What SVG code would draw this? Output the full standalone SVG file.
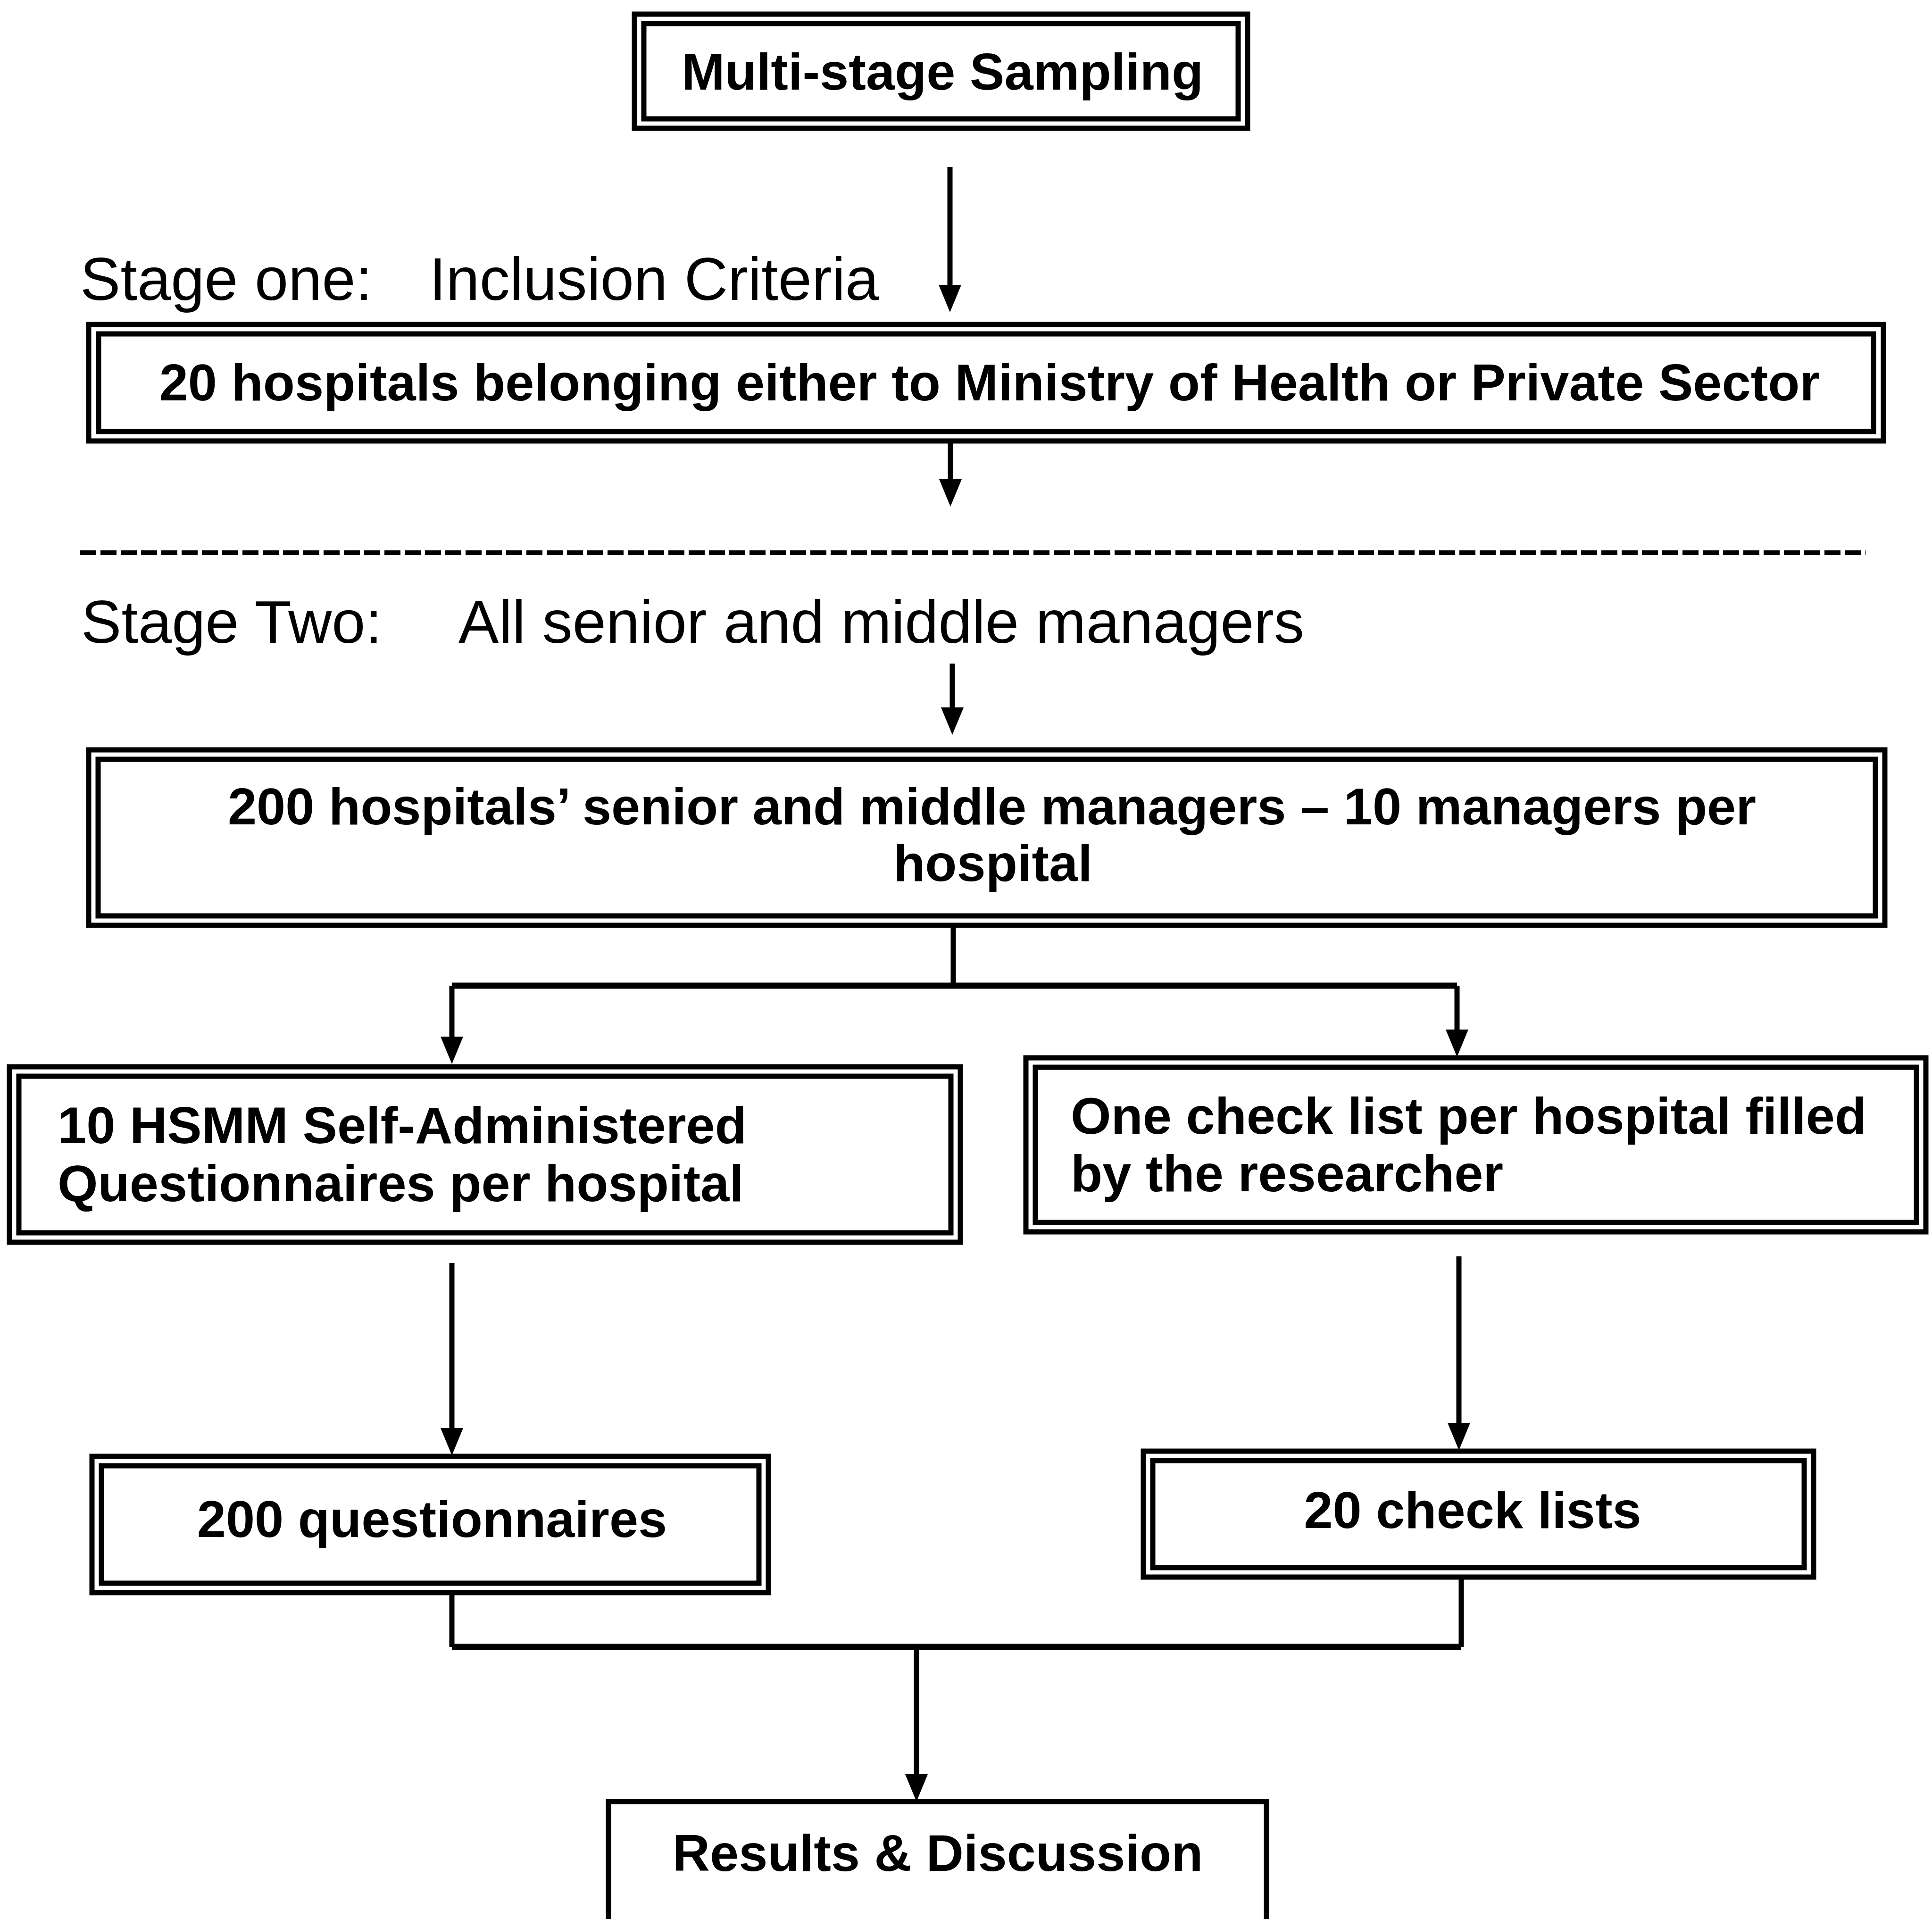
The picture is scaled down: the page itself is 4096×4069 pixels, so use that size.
<svg xmlns="http://www.w3.org/2000/svg" width="4096" height="4069" viewBox="0 0 4096 4069">
  <style>
    .box { fill: none; stroke: #000; stroke-width: 11; }
    .tb { font-family: "Liberation Sans", Arial, sans-serif; font-weight: bold; font-size: 110px; fill: #000; }
    .tr { font-family: "Liberation Sans", Arial, sans-serif; font-size: 128px; fill: #000; }
    .conn { fill: none; stroke: #000; stroke-width: 11; }
    .hconn { fill: none; stroke: #000; stroke-width: 13; }
    .dash { fill: none; stroke: #000; stroke-width: 10; stroke-dasharray: 34 9; }
  </style>
  <defs>
    <marker id="ah" markerUnits="userSpaceOnUse" viewBox="0 0 58 48" markerWidth="58" markerHeight="48" refX="18" refY="24" orient="auto">
      <path d="M0,0 L58,24 L0,48 Z" fill="#000"/>
    </marker>
  </defs>
  <rect x="0" y="0" width="4096" height="4069" fill="#fff"/>

  <g id="connectors">
    <path class="conn" d="M2014,354 V622" marker-end="url(#ah)"/>
    <path class="conn" d="M2015,935 V1034" marker-end="url(#ah)"/>
    <path class="conn" d="M2019,1407 V1518" marker-end="url(#ah)"/>
    <path class="conn" d="M2021,1962 V2090"/>
    <path class="hconn" d="M958,2090 H3089"/>
    <path class="conn" d="M958,2090 V2216" marker-end="url(#ah)"/>
    <path class="conn" d="M3089,2090 V2201" marker-end="url(#ah)"/>
    <path class="conn" d="M958,2678 V3046" marker-end="url(#ah)"/>
    <path class="conn" d="M3093,2664 V3035" marker-end="url(#ah)"/>
    <path class="conn" d="M958,3377 V3492"/>
    <path class="conn" d="M3098,3344 V3492"/>
    <path class="hconn" d="M958,3492 H3098"/>
    <path class="conn" d="M1943,3492 V3780" marker-end="url(#ah)"/>
  </g>

  <g id="divider">
    <path class="dash" d="M170,1172 H3955"/>
  </g>

  <g id="node-multistage">
    <rect class="box" x="1345" y="30" width="1300" height="242"/>
    <rect class="box" x="1365" y="50" width="1260" height="202"/>
    <text class="tb" x="1998" y="190" text-anchor="middle">Multi-stage Sampling</text>
  </g>

  <g id="label-stage-one">
    <text class="tr" x="170" y="636">Stage one:</text>
    <text class="tr" x="910" y="636">Inclusion Criteria</text>
  </g>

  <g id="node-20-hospitals">
    <rect class="box" x="188" y="688" width="3805" height="247"/>
    <rect class="box" x="209" y="708" width="3763" height="207"/>
    <text class="tb" x="2098" y="849" text-anchor="middle">20 hospitals belonging either to Ministry of Health or Private Sector</text>
  </g>

  <g id="label-stage-two">
    <text class="tr" x="172" y="1363">Stage Two:</text>
    <text class="tr" x="972" y="1363">All senior and middle managers</text>
  </g>

  <g id="node-200-managers">
    <rect class="box" x="188" y="1590" width="3808" height="372"/>
    <rect class="box" x="208" y="1610" width="3768" height="332"/>
    <text class="tb" x="2103" y="1748" text-anchor="middle">200 hospitals’ senior and middle managers – 10 managers per</text>
    <text class="tb" x="2105" y="1868" text-anchor="middle">hospital</text>
  </g>

  <g id="node-questionnaires-per-hospital">
    <rect class="box" x="20" y="2262" width="2016" height="372"/>
    <rect class="box" x="40" y="2282" width="1976" height="332"/>
    <text class="tb" x="122" y="2424">10 HSMM Self-Administered</text>
    <text class="tb" x="122" y="2547">Questionnaires per hospital</text>
  </g>

  <g id="node-check-list-per-hospital">
    <rect class="box" x="2175" y="2243" width="1908" height="369"/>
    <rect class="box" x="2195" y="2263" width="1868" height="329"/>
    <text class="tb" x="2270" y="2404">One check list per hospital filled</text>
    <text class="tb" x="2270" y="2526">by the researcher</text>
  </g>

  <g id="node-200-questionnaires">
    <rect class="box" x="195" y="3088" width="1434" height="289"/>
    <rect class="box" x="215" y="3108" width="1394" height="249"/>
    <text class="tb" x="916" y="3259" text-anchor="middle">200 questionnaires</text>
  </g>

  <g id="node-20-check-lists">
    <rect class="box" x="2424" y="3077" width="1421" height="267"/>
    <rect class="box" x="2444" y="3097" width="1381" height="227"/>
    <text class="tb" x="3122" y="3240" text-anchor="middle">20 check lists</text>
  </g>

  <g id="node-results">
    <rect class="box" x="1290" y="3820" width="1395" height="300"/>
    <text class="tb" x="1988" y="3967" text-anchor="middle">Results &amp; Discussion</text>
  </g>
</svg>
